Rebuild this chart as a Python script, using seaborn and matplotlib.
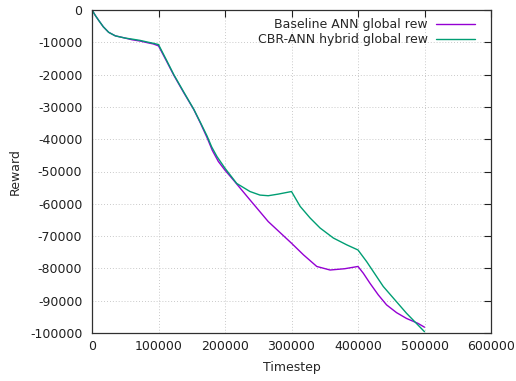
import numpy as np
import pandas as pd
import seaborn as sns
import matplotlib
matplotlib.use("Agg")
import matplotlib.pyplot as plt
from matplotlib.ticker import FuncFormatter

# data
base_x = [0, 5000, 10000, 17000, 25000, 35000, 50000, 60000, 72000, 85000,
          92000, 100000, 112000, 123000, 138000, 153000, 163000, 173000,
          181000, 190000, 200000, 212500, 237600, 265000, 300000, 318000,
          338000, 358000, 380000, 400000, 408000, 418000, 430500, 443000,
          458000, 473000, 490000, 500000]
base_y = [0, -1700, -3200, -5200, -6900, -8000, -8700, -9200, -9600, -10200,
          -10500, -11100, -15800, -20200, -25600, -30800, -35000, -39500,
          -43500, -46900, -49600, -52600, -58800, -65500, -72200, -75800,
          -79400, -80500, -80100, -79400, -81500, -84600, -88200, -91300,
          -93700, -95500, -97000, -98200]

cbr_x = [0, 5000, 10000, 17000, 25000, 35000, 50000, 60000, 72000, 85000,
         92000, 100000, 112000, 123000, 138000, 153000, 163000, 173000,
         180000, 188000, 200000, 217600, 237600, 252600, 265000, 280000,
         300000, 313000, 328000, 343000, 363000, 383000, 400000, 413000,
         438000, 473000, 500000]
cbr_y = [0, -1700, -3200, -5200, -6900, -8000, -8700, -9000, -9400, -10000,
         -10300, -10700, -15500, -20000, -25400, -30700, -34800, -39000,
         -42400, -45400, -49000, -53700, -56200, -57300, -57500, -57000,
         -56200, -60800, -64400, -67500, -70600, -72700, -74300, -77900,
         -85600, -93900, -99600]

labels = ["Baseline ANN global rew", "CBR-ANN hybrid global rew"]
colors = ["#9400d3", "#009e73"]

df = pd.concat([
    pd.DataFrame({"Timestep": base_x, "Reward": base_y, "series": labels[0]}),
    pd.DataFrame({"Timestep": cbr_x, "Reward": cbr_y, "series": labels[1]}),
])

sns.set_style("white")
plt.rcParams["font.family"] = ["DejaVu Sans"]
plt.rcParams["axes.unicode_minus"] = False

fig = plt.figure(figsize=(5.16, 3.81), dpi=100)
ax = fig.add_axes([92 / 516, 1 - 333 / 381, 399 / 516, 323 / 381])

sns.lineplot(data=df, x="Timestep", y="Reward", hue="series",
             palette=dict(zip(labels, colors)), linewidth=1.0,
             sort=False, estimator=None, ax=ax)

ax.set_xlim(0, 600000)
ax.set_ylim(-100000, 0)
ax.set_xticks(np.arange(0, 600001, 100000))
ax.set_yticks(np.arange(-100000, 1, 10000))
fmt = FuncFormatter(lambda v, p: "%d" % v)
ax.xaxis.set_major_formatter(fmt)
ax.yaxis.set_major_formatter(fmt)
ax.tick_params(direction="in", length=5, width=0.8, top=True, right=True,
               labelsize=9, colors="#202020")
ax.tick_params(axis="x", pad=5)
ax.tick_params(axis="y", pad=7)
for s in ax.spines.values():
    s.set_color("#303030")
    s.set_linewidth(0.9)
ax.grid(True, linestyle=(0, (1, 2.5)), color="#b8b8b8", linewidth=0.6)
ax.set_xlabel("Timestep", fontsize=9, labelpad=6)
ax.set_ylabel("Reward", fontsize=9, labelpad=6)

leg = ax.legend(loc="upper right", bbox_to_anchor=(475 / 516, 1 - 18 / 381),
                bbox_transform=fig.transFigure, frameon=False, fontsize=9,
                markerfirst=False, handlelength=3.1, handletextpad=0.7,
                labelspacing=0.15, borderaxespad=0, borderpad=0)

fig.savefig("out.png", dpi=100)
